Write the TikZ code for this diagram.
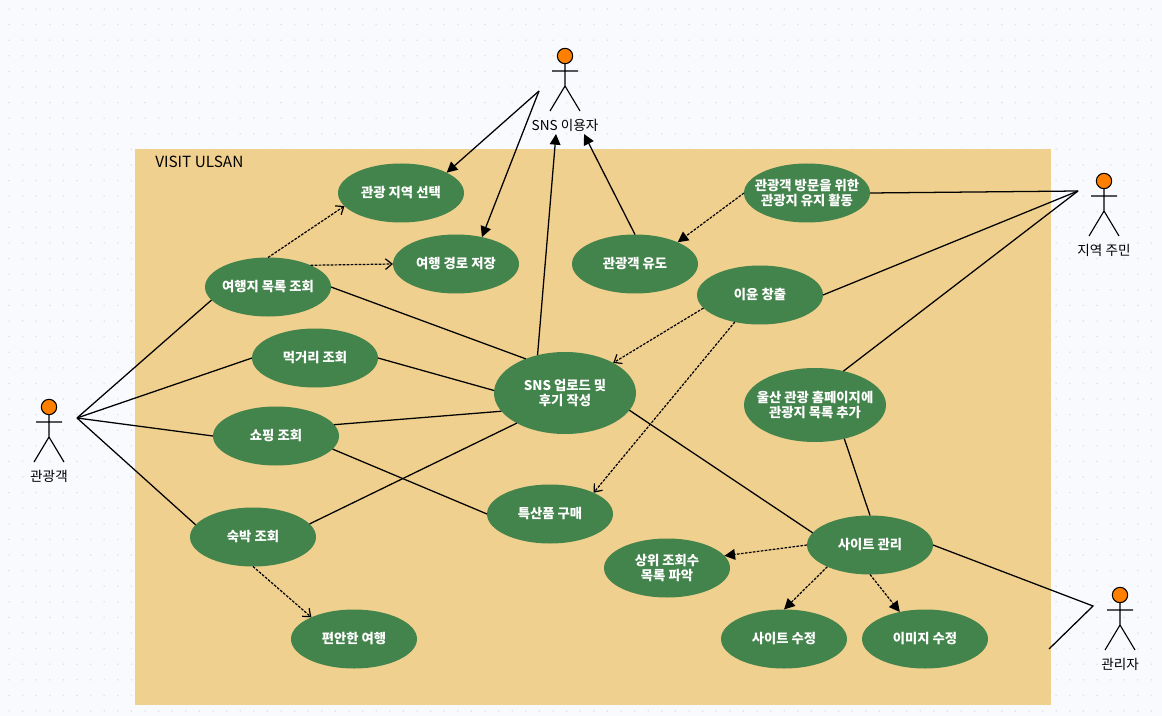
\documentclass[tikz,border=0pt]{standalone}
\usepackage{fontspec}
\setmainfont{Noto Sans CJK KR}
\usepackage{tikz}
\usetikzlibrary{shapes.geometric, arrows.meta}
\definecolor{pagebg}{HTML}{F9FAFD}
\definecolor{griddot}{HTML}{E2E4EA}
\definecolor{sysbg}{HTML}{F0D08E}
\definecolor{casegreen}{HTML}{43834C}
\definecolor{headorange}{HTML}{FF7F00}

\begin{document}
\begin{tikzpicture}[
                x=0.75pt, y=-0.75pt,
                usecase/.style={ellipse, fill=casegreen, text=white, inner xsep=-20pt, inner ysep=-8pt, outer sep=0pt, minimum width=94.5pt, minimum height=44.25pt, align=center, font=\fontsize{10pt}{11pt}\selectfont\bfseries},
                bigcase/.style={usecase, minimum width=106.5pt, minimum height=61.5pt},
                midcase/.style={usecase, minimum width=106.5pt, minimum height=55.5pt},
                head/.style={circle, draw, fill=headorange, minimum size=11.5pt, inner sep=0pt, outer sep=0pt, line width=0.8pt},
                role/.style={font=\fontsize{10.2pt}{11pt}\selectfont, inner sep=0pt},
                dotrow/.style={griddot, line width=1.4pt, line cap=round, dash pattern=on 0pt off 10.2pt},
                link/.style={line width=0.95pt},
                assoc/.style={link, -{Triangle[length=8pt, width=8pt]}},
                dep/.style={line width=0.9pt, dash pattern=on 2pt off 1pt},
                depopen/.style={dep, -{Straight Barb[length=5pt, width=8pt]}},
                depfill/.style={dep, -{Triangle[length=8pt, width=8pt]}},
                stick/.pic={
                    \draw[line width=0.85pt] (0,8) -- (0,30) (-13,15) -- (13,15) (-15,55) -- (0,30) -- (15,55);
                },
            ]

            \useasboundingbox (0,0) rectangle (1162,716);
            \fill[pagebg] (0,0) rectangle (1162,716);
            \foreach \j in {0,...,45}
                \draw[dotrow] (9,{9+15.6*\j}) -- (1162,{9+15.6*\j});

            \fill[sysbg] (135,149) rectangle (1051,705);
            \node[anchor=west, inner sep=0pt, font=\fontsize{11.5pt}{12pt}\selectfont] (title) at (155,162) {VISIT ULSAN};

            % Actors:
            \path (49,407) pic {stick};
            \node[head] (tourist) at (49,407) {};
            \node[role] (touristlbl) at (49,476) {관광객};
            \path (565,56) pic {stick};
            \node[head] (snsuser) at (565,56) {};
            \node[role] (snsuserlbl) at (565,125) {SNS 이용자};
            \path (1104,181) pic {stick};
            \node[head] (local) at (1104,181) {};
            \node[role] (locallbl) at (1104,250) {지역 주민};
            \path (1120,595) pic {stick};
            \node[head] (admin) at (1120,595) {};
            \node[role] (adminlbl) at (1120,664) {관리자};

            % Use cases:
            \node[usecase] (region)   at (401,193) {관광 지역 선택};
            \node[usecase] (route)    at (456,264) {여행 경로 저장};
            \node[usecase] (listq)    at (268,287) {여행지 목록 조회};
            \node[usecase] (foodq)    at (315,358) {먹거리 조회};
            \node[usecase] (shopq)    at (276,436) {쇼핑 조회};
            \node[usecase] (stayq)    at (253,537) {숙박 조회};
            \node[usecase] (comfort)  at (354,639) {편안한 여행};
            \node[bigcase] (sns)      at (565,393) {SNS 업로드 및\\후기 작성};
            \node[usecase] (souvenir) at (550,514) {특산품 구매};
            \node[usecase] (rank)     at (667,568) {상위 조회수\\목록 파악};
            \node[usecase] (manage)   at (870,545) {사이트 관리};
            \node[usecase] (siteedit) at (784,639) {사이트 수정};
            \node[usecase] (imgedit)  at (925,639) {이미지 수정};
            \node[midcase] (homepage) at (815,405) {울산 관광 홈페이지에\\관광지 목록 추가};
            \node[usecase] (profit)   at (760,295) {이윤 창출};
            \node[usecase] (tour)     at (635,264) {관광객 유도};
            \node[usecase] (visit)    at (807,193) {관광객 방문을 위한\\관광지 유지 활동};

            % Free ends of the actor lines:
            \coordinate (touristhub) at (77,418);
            \coordinate (snshub)     at (539,91);
            \coordinate (localhub)   at (1078,191);
            \coordinate (adminhub)   at (1093,606);
            \coordinate (adminend)   at (1049,649);
            \coordinate (snsin1)     at (556,134);
            \coordinate (snsin2)     at (584,134);

            % Solid lines:
            \draw[link] (touristhub) -- (listq.193);
            \draw[link] (touristhub) -- (foodq.180);
            \draw[link] (touristhub) -- (shopq.180);
            \draw[link] (touristhub) -- (stayq.168);
            \draw[link] (listq.0) -- (sns.139);
            \draw[link] (foodq.0) -- (sns.178);
            \draw[link] (shopq.11) -- (sns.196);
            \draw[link] (stayq.13) -- (sns.212);
            \draw[link] (shopq.-13) -- (souvenir.180);
            \draw[link] (sns.-15) -- (manage.168);
            \draw[link] (homepage.-49) -- (manage.90);
            \draw[link] (localhub) -- (visit.0);
            \draw[link] (localhub) -- (profit.0);
            \draw[link] (localhub) -- (homepage.50);
            \draw[link] (manage.0) -- (adminhub) -- (adminend);

            % Filled arrows:
            \draw[assoc] (snshub) -- (region.24);
            \draw[assoc] (snshub) -- (route.46);
            \draw[assoc] (sns.126) -- (snsin1);
            \draw[assoc] (tour.90) -- (snsin2);

            % Dashed arrows:
            \draw[depopen] (listq.90) -- (region.193);
            \draw[depopen] (listq.27) -- (route.180);
            \draw[depopen] (stayq.270) -- (comfort.153);
            \draw[depopen] (profit.193) -- (sns.32);
            \draw[depopen] (profit.227) -- (souvenir.26);
            \draw[depfill] (visit.180) -- (tour.27);
            \draw[depfill] (manage.180) -- (rank.12);
            \draw[depfill] (manage.207) -- (siteedit.90);
            \draw[depfill] (manage.270) -- (imgedit.133);
        \end{tikzpicture}
\end{document}
